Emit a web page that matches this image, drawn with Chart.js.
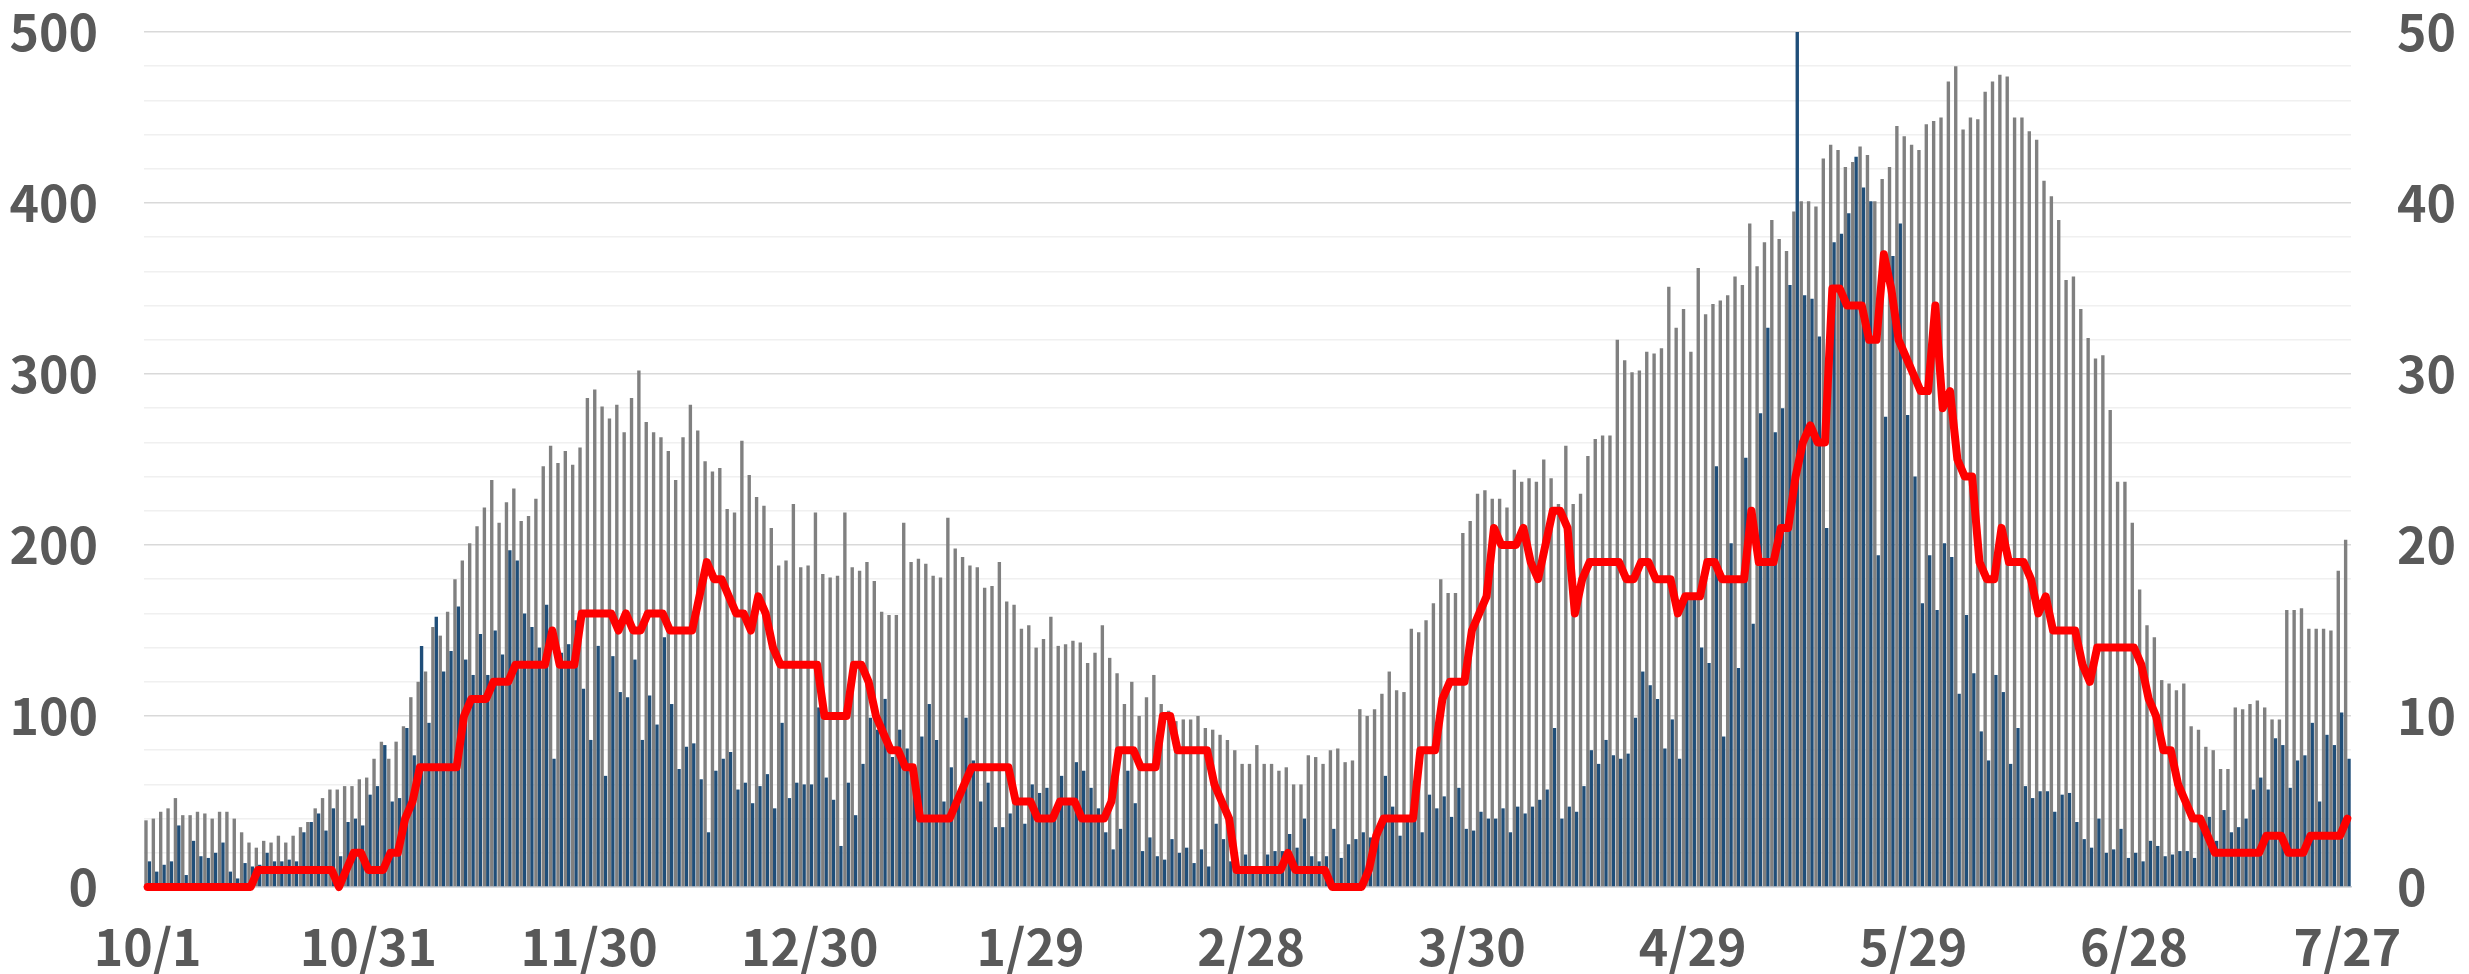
<!DOCTYPE html>
<html lang="ja">
<head>
    <meta charset="UTF-8">
    <title>Daily chart</title>
    <style type="text/css">
        html, body { margin: 0; padding: 0; background: #ffffff; }
        .chartBox { width: 2469px; height: 974px; }
    </style>
</head>
<body>
    <div class="chartBox">
    <canvas id="myChart" width="2469" height="974"></canvas>
    </div>
    <script src="https://cdn.jsdelivr.net/npm/chart.js"></script>
    <script>
    // daily values from 10/1 to 7/27 (300 days)
    const grayVals = [
        39,40,44,46,52,42,42,44,43,40,
        44,44,40,32,26,23,27,26,30,26,
        30,35,38,46,52,57,57,59,59,63,
        64,75,85,75,85,94,111,120,126,152,
        147,161,180,191,201,211,222,238,213,225,
        233,214,217,227,246,258,248,255,247,257,
        286,291,281,274,282,266,286,302,272,266,
        263,255,238,263,282,267,249,243,245,221,
        219,261,241,228,223,210,188,191,224,187,
        188,219,183,181,182,219,187,185,190,179,
        161,159,159,213,190,192,189,182,181,216,
        198,193,188,187,175,176,190,167,165,151,
        153,140,145,158,141,142,144,143,131,137,
        153,134,125,107,120,100,111,124,107,103,
        97,98,98,100,93,92,89,86,80,72,
        72,83,72,72,68,70,60,60,77,76,
        72,80,81,73,74,104,100,104,113,126,
        115,114,151,149,156,166,180,172,172,207,
        214,230,232,227,227,222,244,237,239,237,
        250,239,224,258,224,230,252,262,264,264,
        320,308,301,302,313,312,315,351,327,338,
        313,362,335,341,343,346,357,352,388,363,
        377,390,379,372,395,401,401,398,426,434,
        431,421,424,433,428,401,414,421,445,439,
        434,431,446,448,450,471,480,443,450,449,
        465,471,475,474,450,450,442,437,413,404,
        390,355,357,338,321,309,311,279,237,237,
        213,174,153,146,121,119,115,119,94,92,
        82,80,69,69,105,104,107,109,105,98,
        98,162,162,163,151,151,151,150,185,203
    ];

    const blueVals = [
        15,9,13,15,36,7,27,18,17,20,
        26,9,5,14,12,13,20,15,15,16,
        15,32,38,43,33,46,18,38,40,36,
        54,59,83,50,52,93,77,141,96,158,
        126,138,164,133,124,148,124,150,136,197,
        191,160,152,140,165,75,137,142,156,116,
        86,141,65,135,114,111,133,86,112,95,
        146,107,69,82,84,63,32,68,75,79,
        57,61,49,59,66,46,96,52,61,60,
        60,105,64,51,24,61,42,72,99,92,
        110,76,92,81,70,88,107,86,50,70,
        55,99,74,50,61,35,35,43,49,37,
        60,55,58,39,65,51,73,68,58,46,
        32,22,34,68,49,21,29,18,16,28,
        20,23,14,22,12,37,28,15,10,19,
        9,8,19,21,21,31,23,40,18,15,
        18,34,17,25,28,32,29,30,65,47,
        30,38,39,32,54,46,53,41,58,34,
        33,44,40,40,46,32,47,43,47,51,
        57,93,40,47,44,59,80,72,86,77,
        75,78,99,126,118,110,81,98,75,170,
        169,140,131,246,88,201,128,251,154,277,
        327,266,280,352,500,346,344,322,210,377,
        382,394,427,409,401,194,275,369,388,276,
        240,166,194,162,201,193,113,159,125,91,
        74,124,114,72,93,59,52,56,56,44,
        54,55,38,28,23,40,20,22,34,17,
        20,15,27,24,18,19,21,21,17,41,
        41,27,45,32,35,40,57,64,57,87,
        83,58,74,77,96,50,89,83,102,75
    ];

    // right axis (0-50)
    const redVals = [
        0,0,0,0,0,0,0,0,0,0,
        0,0,0,0,0,1,1,1,1,1,
        1,1,1,1,1,1,0,1,2,2,
        1,1,1,2,2,4,5,7,7,7,
        7,7,7,10,11,11,11,12,12,12,
        13,13,13,13,13,15,13,13,13,16,
        16,16,16,16,15,16,15,15,16,16,
        16,15,15,15,15,17,19,18,18,17,
        16,16,15,17,16,14,13,13,13,13,
        13,13,10,10,10,10,13,13,12,10,
        9,8,8,7,7,4,4,4,4,4,
        5,6,7,7,7,7,7,7,5,5,
        5,4,4,4,5,5,5,4,4,4,
        4,5,8,8,8,7,7,7,10,10,
        8,8,8,8,8,6,5,4,1,1,
        1,1,1,1,1,2,1,1,1,1,
        1,0,0,0,0,0,1,3,4,4,
        4,4,4,8,8,8,11,12,12,12,
        15,16,17,21,20,20,20,21,19,18,
        20,22,22,21,16,18,19,19,19,19,
        19,18,18,19,19,18,18,18,16,17,
        17,17,19,19,18,18,18,18,22,19,
        19,19,21,21,24,26,27,26,26,35,
        35,34,34,34,32,32,37,35,32,31,
        30,29,29,34,28,29,25,24,24,19,
        18,18,21,19,19,19,18,16,17,15,
        15,15,15,13,12,14,14,14,14,14,
        14,13,11,10,8,8,6,5,4,4,
        3,2,2,2,2,2,2,2,3,3,
        3,2,2,2,3,3,3,3,3,4
    ];

    const tickLabels = ['10/1', '10/31', '11/30', '12/30', '1/29', '2/28', '3/30', '4/29', '5/29', '6/28', '7/27'];

    const dayLabels = grayVals.map((v, i) => {
        const d = new Date(2020, 9, 1 + i);
        return (d.getMonth() + 1) + '/' + d.getDate();
    });

    const axisFont = { family: "'Noto Sans CJK JP', 'Noto Sans', sans-serif", size: 50, weight: 'bold' };
    const axisColor = '#595959';

    // keep the plot area where it is, label padding shouldn't push it down
    function fixY(width) {
        return s => {
            s.width = width;
            s.paddingTop = 20;
            s.paddingBottom = 20;
        };
    }

    const ctx = document.getElementById('myChart').getContext('2d');
    const myChart = new Chart(ctx, {
        type: 'bar',
        data: {
            labels: dayLabels,
            datasets: [{
                type: 'line',
                data: redVals,
                yAxisID: 'y1',
                borderColor: '#ff0000',
                borderWidth: 8,
                borderJoinStyle: 'round',
                borderCapStyle: 'round',
                pointRadius: 0,
                tension: 0,
                clip: false,
                order: 0
            }, {
                data: grayVals,
                yAxisID: 'y',
                backgroundColor: '#808080',
                categoryPercentage: 0.92,
                barPercentage: 1.0,
                order: 1
            }, {
                data: blueVals,
                yAxisID: 'y',
                backgroundColor: '#1f4e79',
                categoryPercentage: 0.92,
                barPercentage: 1.0,
                order: 1
            }]
        },
        options: {
            responsive: false,
            devicePixelRatio: 1,
            animation: false,
            layout: { padding: { top: 32, left: 0, right: 0, bottom: 0 } },
            plugins: {
                legend: { display: false },
                tooltip: { enabled: false }
            },
            scales: {
                x: {
                    grid: { display: false, drawTicks: false },
                    border: { color: '#c8ccd2', width: 1.5 },
                    ticks: {
                        autoSkip: false,
                        maxRotation: 0,
                        minRotation: 0,
                        padding: 30,
                        font: axisFont,
                        color: axisColor,
                        callback: function(val, i) {
                            const lbl = dayLabels[i];
                            return tickLabels.includes(lbl) ? lbl : '';
                        }
                    },
                    afterFit: s => { s.height = 87; }
                },
                y: {
                    position: 'left',
                    min: 0,
                    max: 500,
                    border: { display: false },
                    grid: {
                        drawTicks: false,
                        lineWidth: 1.5,
                        color: c => (c.tick.value % 100 === 0 ? '#d9d9d9' : '#f0f0f0')
                    },
                    ticks: {
                        stepSize: 20,
                        autoSkip: false,
                        padding: 46,
                        font: axisFont,
                        color: axisColor,
                        callback: v => (v % 100 === 0 ? v : '')
                    },
                    afterFit: fixY(144)
                },
                y1: {
                    position: 'right',
                    min: 0,
                    max: 50,
                    border: { display: false },
                    grid: { display: false, drawTicks: false },
                    ticks: {
                        stepSize: 10,
                        autoSkip: false,
                        padding: 46,
                        font: axisFont,
                        color: axisColor
                    },
                    afterFit: fixY(118)
                }
            }
        }
    });
    </script>
</body>
</html>
